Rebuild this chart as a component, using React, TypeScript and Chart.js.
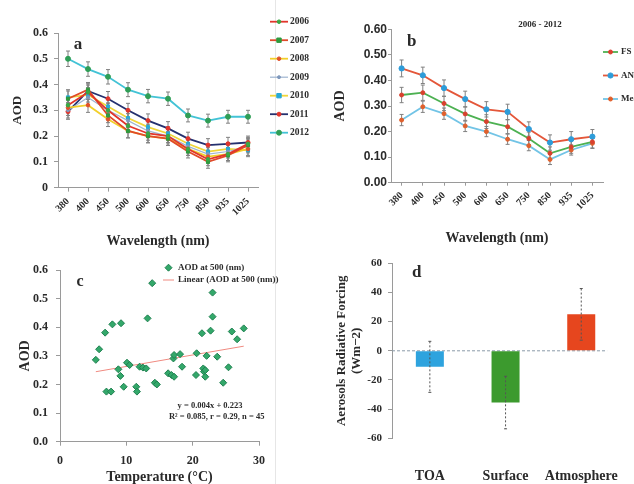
import React, { useEffect, useRef } from 'react';
import { Chart, registerables } from 'chart.js';

Chart.register(...registerables);

const SERIF = "'Liberation Serif', 'Times New Roman', serif";
const SANS = "'Liberation Sans', Arial, sans-serif";
const INK = '#2a2a2a';
const AXIS = '#9a9a9a';

// ---- (a) annual AOD spectra ----
const wavelengths = ['380', '400', '450', '500', '600', '650', '750', '850', '935', '1025'];
const years = ['2006', '2007', '2008', '2009', '2010', '2011', '2012'];
const aod2006 = [0.32, 0.37, 0.3, 0.24, 0.21, 0.2, 0.15, 0.11, 0.13, 0.17];
const aod2007 = [0.345, 0.38, 0.28, 0.22, 0.2, 0.19, 0.14, 0.1, 0.125, 0.165];
const aod2008 = [0.31, 0.32, 0.265, 0.22, 0.2, 0.19, 0.15, 0.12, 0.13, 0.15];
const aod2009 = [0.3, 0.35, 0.3, 0.26, 0.22, 0.2, 0.16, 0.13, 0.14, 0.16];
const aod2010 = [0.35, 0.36, 0.315, 0.27, 0.235, 0.21, 0.17, 0.14, 0.15, 0.145];
const aod2011 = [0.295, 0.375, 0.345, 0.3, 0.26, 0.23, 0.19, 0.165, 0.17, 0.175];
const aod2012 = [0.5, 0.46, 0.43, 0.38, 0.355, 0.345, 0.28, 0.26, 0.275, 0.275];
const errYearly = [0.03, 0.028, 0.028, 0.027, 0.026, 0.026, 0.025, 0.025, 0.025, 0.025];

// ---- (b) 2006-2012 spectra by group ----
const groups = ['FS', 'AN', 'Mean'];
const aodFS = [0.343, 0.352, 0.31, 0.269, 0.239, 0.219, 0.173, 0.115, 0.14, 0.16];
const aodAN = [0.447, 0.42, 0.37, 0.327, 0.287, 0.277, 0.21, 0.157, 0.17, 0.18];
const aodMean = [0.245, 0.297, 0.27, 0.222, 0.2, 0.17, 0.145, 0.091, 0.128, 0.154];
const errFS = [0.03, 0.03, 0.028, 0.028, 0.027, 0.027, 0.025, 0.025, 0.025, 0.024];
const errAN = [0.033, 0.032, 0.032, 0.031, 0.03, 0.03, 0.028, 0.03, 0.03, 0.028];
const errMean = [0.022, 0.022, 0.022, 0.022, 0.02, 0.02, 0.02, 0.02, 0.02, 0.02];

// ---- (c) AOD at 500 nm versus temperature ----
const temps = [5.4, 5.9, 6.8, 7.9, 9.2, 7.0, 7.7, 8.8, 9.1, 9.6, 10.1, 10.5, 11.5, 11.6, 12.0, 12.5, 13.0, 13.2, 13.9, 14.3, 14.6, 16.3, 16.8, 17.2, 17.1, 17.2, 18.1, 18.4, 20.5, 20.6, 21.4, 21.6, 21.7, 21.9, 22.1, 22.7, 23.0, 23.0, 23.7, 24.6, 25.4, 25.9, 26.7, 27.7, 21.9];
const aod500 = [0.286, 0.323, 0.381, 0.41, 0.414, 0.175, 0.175, 0.253, 0.23, 0.192, 0.276, 0.268, 0.192, 0.175, 0.262, 0.259, 0.256, 0.431, 0.554, 0.206, 0.2, 0.239, 0.233, 0.227, 0.291, 0.303, 0.306, 0.262, 0.233, 0.309, 0.379, 0.256, 0.245, 0.227, 0.3, 0.388, 0.437, 0.521, 0.297, 0.206, 0.26, 0.385, 0.358, 0.396, 0.25];
const fitSlope = 0.004;
const fitIntercept = 0.223;

// ---- (d) aerosol radiative forcing ----
const forcingLabels = ['TOA', 'Surface', 'Atmosphere'];
const forcing = [-11, -35.5, 25];
const forcingErr = [17.5, 18, 17.7];

const f = (size: number, family = SERIF, lineHeight?: number) =>
  lineHeight ? { family, size, weight: 'bold' as const, lineHeight } : { family, size, weight: 'bold' as const };

function drawMarker(ctx: CanvasRenderingContext2D, style: string, x: number, y: number, r: number, fill: string, stroke: string) {
  ctx.beginPath();
  if (style === 'rect') {
    ctx.rect(x - r, y - r, 2 * r, 2 * r);
  } else if (style === 'rectRot') {
    ctx.moveTo(x, y - r);
    ctx.lineTo(x + r, y);
    ctx.lineTo(x, y + r);
    ctx.lineTo(x - r, y);
    ctx.closePath();
  } else {
    ctx.arc(x, y, r, 0, Math.PI * 2);
  }
  ctx.fillStyle = fill;
  ctx.fill();
  ctx.lineWidth = 1;
  ctx.strokeStyle = stroke;
  ctx.stroke();
}

function paintErrorBars(chart: any, layer: string) {
  const ctx = chart.ctx;
  chart.data.datasets.forEach((ds: any, di: number) => {
    if (!ds.errors || (ds.errorLayer ?? 'above') !== layer) return;
    const meta = chart.getDatasetMeta(di);
    const yScale = chart.scales[meta.yAxisID];
    const cap = ds.errorCap ?? 2;
    ctx.save();
    ctx.strokeStyle = ds.errorColor ?? '#777';
    ctx.lineWidth = 1;
    meta.data.forEach((el: any, i: number) => {
      const v = ds.data[i] as number;
      const e = ds.errors[i];
      const x = el.x;
      const yt = yScale.getPixelForValue(v + e);
      const yb = yScale.getPixelForValue(v - e);
      ctx.setLineDash(ds.errorDash ?? []);
      ctx.beginPath();
      ctx.moveTo(x, yt);
      ctx.lineTo(x, yb);
      ctx.stroke();
      ctx.setLineDash([]);
      ctx.beginPath();
      ctx.moveTo(x - cap, yt);
      ctx.lineTo(x + cap, yt);
      ctx.moveTo(x - cap, yb);
      ctx.lineTo(x + cap, yb);
      ctx.stroke();
    });
    ctx.restore();
  });
}

const errorBarsPlugin = {
  id: 'errorBars',
  beforeDatasetsDraw(chart: any) {
    paintErrorBars(chart, 'below');
  },
  afterDatasetsDraw(chart: any) {
    paintErrorBars(chart, 'above');
  },
};
Chart.register(errorBarsPlugin);

type TextItem = { text: string; x: number; y: number; font: string; align?: CanvasTextAlign; color?: string };

function textPlugin(items: TextItem[]) {
  return {
    id: 'panelText',
    afterDraw(chart: any) {
      const ctx = chart.ctx;
      ctx.save();
      for (const it of items) {
        ctx.font = it.font;
        ctx.fillStyle = it.color ?? INK;
        ctx.textAlign = it.align ?? 'center';
        ctx.textBaseline = 'middle';
        ctx.fillText(it.text, it.x, it.y);
      }
      ctx.restore();
    },
  };
}

function legendPlugin(cfg: { x: number; y: number; spacing: number; lineLength: number; gap: number; font: string }) {
  return {
    id: 'seriesLegend',
    afterDraw(chart: any) {
      const ctx = chart.ctx;
      ctx.save();
      chart.data.datasets.forEach((ds: any, i: number) => {
        const y = cfg.y + i * cfg.spacing;
        const x0 = cfg.x;
        const x1 = cfg.x + cfg.lineLength;
        if (ds.showLine !== false) {
          ctx.strokeStyle = ds.borderColor;
          ctx.lineWidth = ds.borderWidth ?? 2;
          ctx.beginPath();
          ctx.moveTo(x0, y);
          ctx.lineTo(x1, y);
          ctx.stroke();
        }
        const r = ds.pointRadius ?? 3;
        if (r > 0) {
          drawMarker(ctx, ds.pointStyle ?? 'circle', (x0 + x1) / 2, y, r, ds.pointBackgroundColor ?? ds.backgroundColor, ds.pointBorderColor ?? ds.pointBackgroundColor ?? ds.backgroundColor);
        }
        ctx.font = cfg.font;
        ctx.fillStyle = INK;
        ctx.textAlign = 'left';
        ctx.textBaseline = 'middle';
        ctx.fillText(ds.label, x1 + cfg.gap, y);
      });
      ctx.restore();
    },
  };
}

const axisGrid = { drawOnChartArea: false, drawTicks: true, tickLength: 4, color: AXIS };

function buildA(): any {
  const values = [aod2006, aod2007, aod2008, aod2009, aod2010, aod2011, aod2012];
  const lineColors = ['#E2342B', '#E04A2A', '#F2CF2A', '#9FB4D0', '#F0D63A', '#24306E', '#43C3D6'];
  const pointColors = ['#39A845', '#2E9B3E', '#E0502A', '#7F98BC', '#27A9D6', '#E2342B', '#2F9E56'];
  const pointStyles = ['circle', 'rect', 'circle', 'circle', 'rect', 'circle', 'circle'];
  const radii = [1.8, 2.2, 1.8, 1.5, 2.2, 2, 2.5];
  return {
    type: 'line',
    data: {
      labels: wavelengths,
      datasets: years.map((yr, i) => ({
        label: yr,
        data: values[i],
        borderColor: lineColors[i],
        borderWidth: i === 3 ? 1.2 : 1.8,
        pointStyle: pointStyles[i],
        pointRadius: radii[i],
        pointBorderWidth: 1,
        pointBackgroundColor: pointColors[i],
        pointBorderColor: pointColors[i],
        tension: 0,
        errors: errYearly,
        errorColor: '#808080',
        errorCap: 2,
        errorLayer: 'below',
      })),
    },
    options: {
      responsive: false,
      animation: false,
      layout: { padding: { left: 0, top: 33, right: 62, bottom: 0 } },
      plugins: { legend: { display: false }, tooltip: { enabled: false } },
      scales: {
        x: {
          offset: true,
          grid: axisGrid,
          border: { color: AXIS },
          ticks: { autoSkip: false, minRotation: 45, maxRotation: 45, padding: 4, color: INK, font: f(10) },
          title: { display: true, text: 'Wavelength (nm)', color: INK, font: f(14), padding: 0 },
          afterFit: (s: any) => { s.height = 62.4; },
        },
        y: {
          min: 0,
          max: 0.6,
          grid: axisGrid,
          border: { color: AXIS },
          ticks: { stepSize: 0.1, padding: 6, color: INK, font: f(12), callback: (v: any) => (Number(v) === 0 ? '0' : Number(v).toFixed(1)) },
          title: { display: true, text: 'AOD', color: INK, font: f(13), padding: { top: 10, bottom: 0 } },
          afterFit: (s: any) => { s.width = 58; },
        },
      },
    },
    plugins: [
      textPlugin([{ text: 'a', x: 78, y: 45, font: `bold 17px ${SERIF}` }]),
      legendPlugin({ x: 270, y: 21.7, spacing: 18.5, lineLength: 18, gap: 2, font: `bold 9.5px ${SERIF}` }),
    ],
  };
}

function buildB(): any {
  const values = [aodFS, aodAN, aodMean];
  const errs = [errFS, errAN, errMean];
  const lineColors = ['#4DB152', '#E4573A', '#72C4E6'];
  const pointColors = ['#D9412E', '#2E9CD9', '#E0602C'];
  const radii = [2, 2.6, 2];
  return {
    type: 'line',
    data: {
      labels: wavelengths,
      datasets: groups.map((g, i) => ({
        label: g,
        data: values[i],
        borderColor: lineColors[i],
        borderWidth: 1.8,
        pointStyle: 'circle',
        pointRadius: radii[i],
        pointBorderWidth: 1,
        pointBackgroundColor: pointColors[i],
        pointBorderColor: pointColors[i],
        tension: 0,
        errors: errs[i],
        errorColor: '#808080',
        errorCap: 2,
        errorLayer: 'below',
      })),
    },
    options: {
      responsive: false,
      animation: false,
      layout: { padding: { left: 0, top: 29.3, right: 31, bottom: 0 } },
      plugins: { legend: { display: false }, tooltip: { enabled: false } },
      scales: {
        x: {
          offset: true,
          grid: { ...axisGrid, tickLength: 3 },
          border: { color: AXIS, dash: [3, 2] },
          ticks: { autoSkip: false, minRotation: 45, maxRotation: 45, padding: 4, color: INK, font: f(10) },
          title: { display: true, text: 'Wavelength (nm)', color: INK, font: f(14), padding: { top: 0, bottom: 3.6 } },
          afterFit: (s: any) => { s.height = 67.3; },
        },
        y: {
          min: 0,
          max: 0.6,
          grid: { ...axisGrid, tickLength: 3 },
          border: { color: AXIS },
          ticks: { stepSize: 0.1, padding: 1, color: INK, font: f(12, SANS), callback: (v: any) => Number(v).toFixed(2) },
          title: { display: true, text: 'AOD', color: INK, font: f(14), padding: { top: 11.6, bottom: 0 } },
          afterFit: (s: any) => { s.width = 71; },
        },
      },
    },
    plugins: [
      textPlugin([
        { text: 'b', x: 91.7, y: 41.7, font: `bold 17px ${SERIF}` },
        { text: '2006 - 2012', x: 220, y: 25, font: `bold 9px ${SERIF}` },
      ]),
      legendPlugin({ x: 283, y: 52, spacing: 23.5, lineLength: 15, gap: 3, font: `bold 9px ${SERIF}` }),
    ],
  };
}

function buildC(): any {
  const tMin = Math.min(...temps);
  const tMax = Math.max(...temps);
  return {
    type: 'scatter',
    data: {
      datasets: [
        {
          label: 'AOD at 500 (nm)',
          data: temps.map((t, i) => ({ x: t, y: aod500[i] })),
          showLine: false,
          pointStyle: 'rectRot',
          pointRadius: 3.5,
          pointBackgroundColor: '#33A86A',
          pointBorderColor: '#1F8050',
          pointBorderWidth: 1,
        },
        {
          type: 'line',
          label: 'Linear (AOD at 500 (nm))',
          data: [
            { x: tMin, y: fitSlope * tMin + fitIntercept },
            { x: tMax, y: fitSlope * tMax + fitIntercept },
          ],
          showLine: true,
          borderColor: '#F08A80',
          borderWidth: 1,
          pointRadius: 0,
        },
      ],
    },
    options: {
      responsive: false,
      animation: false,
      layout: { padding: { left: 0, top: 20, right: 61, bottom: 0 } },
      plugins: { legend: { display: false }, tooltip: { enabled: false } },
      scales: {
        x: {
          type: 'linear',
          min: 0,
          max: 30,
          grid: axisGrid,
          border: { color: AXIS },
          ticks: { stepSize: 10, padding: 8, color: INK, font: f(12) },
          title: { display: true, text: 'Temperature (°C)', color: INK, font: f(14, SERIF, 1), padding: 0 },
          afterFit: (s: any) => { s.height = 42.3; },
        },
        y: {
          min: 0,
          max: 0.6,
          grid: axisGrid,
          border: { color: AXIS },
          ticks: { stepSize: 0.1, padding: 8, color: INK, font: f(12), callback: (v: any) => Number(v).toFixed(1) },
          title: { display: true, text: 'AOD', color: INK, font: f(14), padding: { top: 16.6, bottom: 0 } },
          afterFit: (s: any) => { s.width = 60; },
        },
      },
    },
    plugins: [
      textPlugin([
        { text: 'c', x: 80, y: 31.7, font: `bold 16px ${SERIF}` },
        { text: `y = ${fitSlope}x + ${fitIntercept}`, x: 210, y: 155.7, font: `bold 8.5px ${SERIF}` },
        { text: 'R² = 0.085, r = 0.29, n = 45', x: 216.7, y: 166.7, font: `bold 8.5px ${SERIF}` },
      ]),
      legendPlugin({ x: 163, y: 17.7, spacing: 12.3, lineLength: 11, gap: 4, font: `bold 9px ${SERIF}` }),
    ],
  };
}

function buildD(): any {
  const zeroLine = {
    id: 'zeroLine',
    beforeDatasetsDraw(chart: any) {
      const { ctx, chartArea } = chart;
      const y = chart.scales.y.getPixelForValue(0);
      ctx.save();
      ctx.strokeStyle = '#8a9aa8';
      ctx.lineWidth = 1;
      ctx.setLineDash([3, 2]);
      ctx.beginPath();
      ctx.moveTo(chartArea.left, y);
      ctx.lineTo(chartArea.right - 12, y);
      ctx.stroke();
      ctx.restore();
    },
  };
  return {
    type: 'bar',
    data: {
      labels: forcingLabels,
      datasets: [
        {
          label: 'Forcing',
          data: forcing,
          backgroundColor: ['#2EA3DE', '#3C9A2E', '#E6461E'],
          barPercentage: 0.37,
          categoryPercentage: 1,
          errors: forcingErr,
          errorColor: '#555',
          errorDash: [2, 2],
          errorCap: 1.5,
          errorLayer: 'above',
        },
      ],
    },
    options: {
      responsive: false,
      animation: false,
      layout: { padding: { left: 0, top: 13.3, right: 2, bottom: 0 } },
      plugins: { legend: { display: false }, tooltip: { enabled: false } },
      scales: {
        x: {
          grid: { display: false },
          border: { display: false },
          ticks: { padding: 22, color: INK, font: f(14) },
          afterFit: (s: any) => { s.height = 45.7; },
        },
        y: {
          min: -60,
          max: 60,
          grid: axisGrid,
          border: { color: AXIS },
          ticks: { stepSize: 20, padding: 6, color: INK, font: f(11) },
          title: {
            display: true,
            text: ['Aerosols Radiative Forcing', '(Wm−2)'],
            color: INK,
            font: f(13, SERIF, 1.15),
            padding: { top: 14.2, bottom: 0 },
          },
          afterFit: (s: any) => { s.width = 72; },
        },
      },
    },
    plugins: [zeroLine, textPlugin([{ text: 'd', x: 96.7, y: 23, font: `bold 17px ${SERIF}` }])],
  };
}

function ChartCanvas(props: { left: number; top: number; width: number; height: number; build: () => any }) {
  const ref = useRef<HTMLCanvasElement>(null);
  useEffect(() => {
    const chart = new Chart(ref.current as HTMLCanvasElement, props.build());
    return () => chart.destroy();
  }, []);
  return (
    <canvas
      ref={ref}
      width={props.width}
      height={props.height}
      style={{ position: 'absolute', left: props.left, top: props.top, width: props.width, height: props.height }}
    />
  );
}

export default function App() {
  return (
    <div style={{ position: 'fixed', left: 0, top: 0, width: 634, height: 484, overflow: 'hidden', background: '#fff' }}>
      <div style={{ position: 'absolute', left: 275, top: 0, width: 1, height: 484, background: '#e6e6e6' }} />
      <ChartCanvas left={0} top={0} width={320} height={250} build={buildA} />
      <ChartCanvas left={320} top={0} width={314} height={250} build={buildB} />
      <ChartCanvas left={0} top={250} width={320} height={234} build={buildC} />
      <ChartCanvas left={320} top={250} width={320} height={234} build={buildD} />
    </div>
  );
}
